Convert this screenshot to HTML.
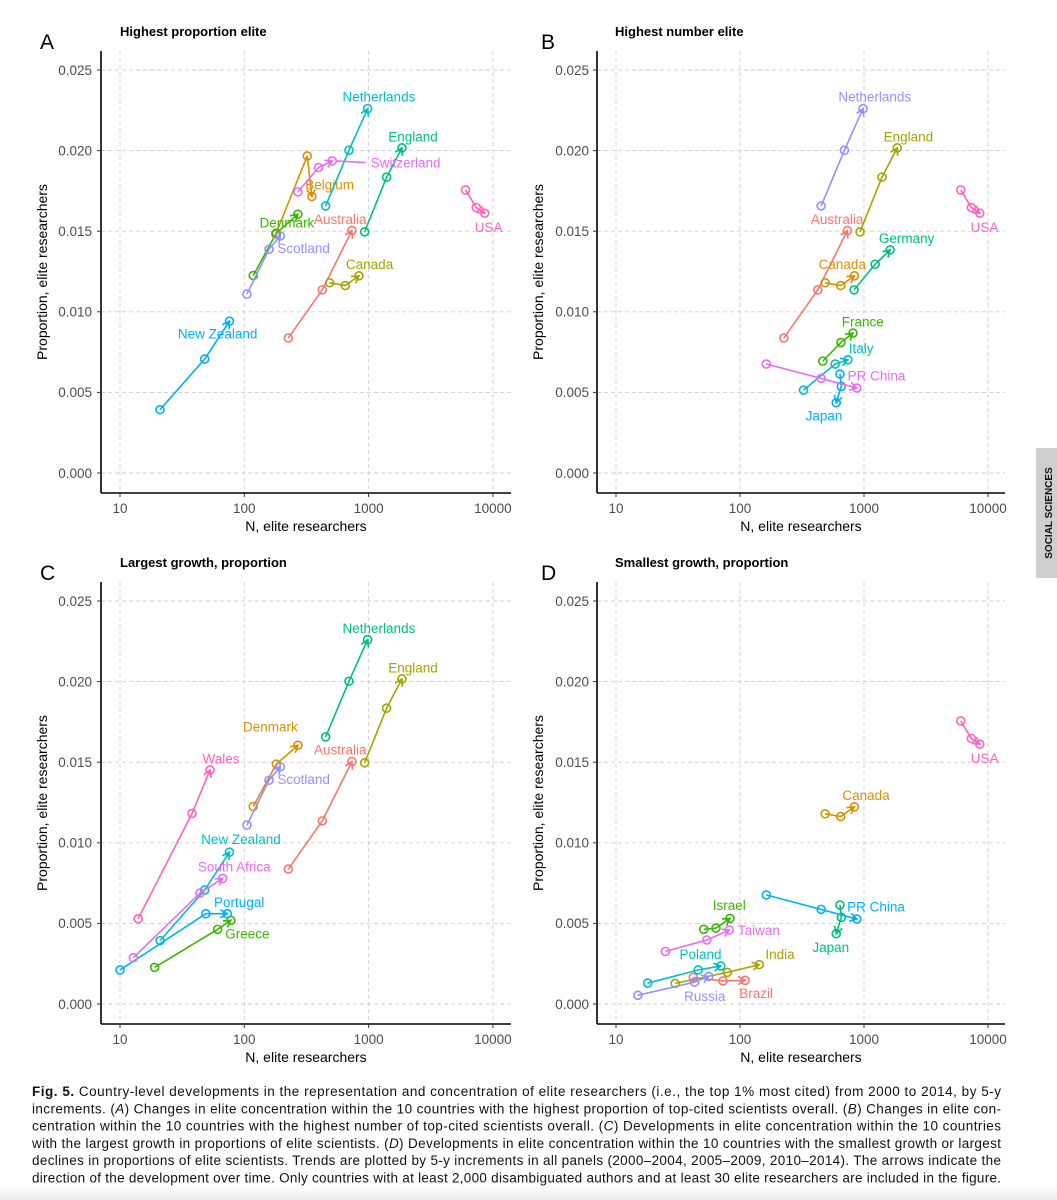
<!DOCTYPE html>
<html><head><meta charset="utf-8"><title>Fig 5</title>
<style>
html,body{margin:0;padding:0;background:#fff;}
svg{display:block;font-family:"Liberation Sans",Arial,sans-serif;}
</style></head>
<body>
<svg id="fig" width="1057" height="1200" viewBox="0 0 1057 1200" xmlns="http://www.w3.org/2000/svg">
<defs><linearGradient id="fade" x1="0" y1="0" x2="0" y2="1"><stop offset="0" stop-color="#fff"/><stop offset="1" stop-color="#ececec"/></linearGradient></defs>
<rect x="0" y="1186" width="1057" height="14" fill="url(#fade)"/>
<g>
<rect x="1036" y="448" width="21" height="130" fill="#cfcfcf"/>
<text x="0" y="0" transform="translate(1052,513) rotate(-90)" text-anchor="middle" font-size="10" font-weight="bold" fill="#111">SOCIAL SCIENCES</text>
</g>
<g id="caption" font-size="13.5" fill="#111"></g>
</svg>
<script>
// ---------- DATA ----------
const periods = ["2000–2004","2005–2009","2010–2014"];
const xTicks = [10,100,1000,10000];
const xTickLabels = ["10","100","1000","10000"];
const yTicks = [0,0.005,0.01,0.015,0.02,0.025];
const yTickLabels = ["0.000","0.005","0.010","0.015","0.020","0.025"];
const hue10 = ["#F8766D","#D89000","#A3A500","#39B600","#00BF7D","#00BFC4","#00B0F6","#9590FF","#E76BF3","#FF62BC"];

const australiaN = [226,424,734], australiaP = [0.00837,0.01136,0.01504];
const canadaN = [486,649,836], canadaP = [0.0118,0.01163,0.01223];
const englandN = [929,1396,1855], englandP = [0.01496,0.01835,0.02017];
const netherlandsN = [451,695,982], netherlandsP = [0.01657,0.02002,0.0226];
const usaN = [6030,7340,8580], usaP = [0.01756,0.01647,0.01612];
const newZealandN = [21,48,76], newZealandP = [0.00393,0.00707,0.00942];
const scotlandN = [105,158,195], scotlandP = [0.0111,0.01388,0.01471];
const denmarkN = [118,181,270], denmarkP = [0.01225,0.01488,0.01605];
const belgiumN = [179,321,350], belgiumP = [0.01481,0.01967,0.01715];
const switzerlandN = [270,396,510], switzerlandP = [0.01744,0.01895,0.01936];
const germanyN = [832,1230,1625], germanyP = [0.01136,0.01295,0.01384];
const franceN = [465,652,814], franceP = [0.00694,0.0081,0.00868];
const italyN = [325,585,741], italyP = [0.00514,0.00676,0.00702];
const chinaN = [163,451,875], chinaP = [0.00676,0.00587,0.00527];
const japanN = [640,656,597], japanP = [0.00614,0.00537,0.00436];
const greeceN = [19,61,78], greeceP = [0.00227,0.00463,0.00519];
const portugalN = [10,49,73], portugalP = [0.00211,0.0056,0.0056];
const southAfricaN = [12.8,44,67], southAfricaP = [0.00287,0.00688,0.00779];
const walesN = [14,38,53], walesP = [0.00529,0.01182,0.01452];
const brazilN = [42,73,110], brazilP = [0.00165,0.00143,0.00147];
const indiaN = [30,79,143], indiaP = [0.00128,0.00196,0.00244];
const israelN = [51,64,83], israelP = [0.00463,0.00471,0.00531];
const polandN = [18,46,70], polandP = [0.0013,0.00211,0.00236];
const russiaN = [15,43,56], russiaP = [0.00054,0.00136,0.00171];
const taiwanN = [25,54,82], taiwanP = [0.00326,0.00397,0.00459];

const panelA = ["Australia","Belgium","Canada","Denmark","England","Netherlands","New Zealand","Scotland","Switzerland","USA"];
const panelB = ["Australia","Canada","England","France","Germany","Italy","Japan","Netherlands","PR China","USA"];
const panelC = ["Australia","Denmark","England","Greece","Netherlands","New Zealand","Portugal","Scotland","South Africa","Wales"];
const panelD = ["Brazil","Canada","India","Israel","Japan","Poland","PR China","Russia","Taiwan","USA"];

const labelsA = {"Netherlands":[1211,0.02335],"England":[2275,0.02087],"Switzerland":[1986,0.01926],"Belgium":[486,0.01787],"Denmark":[220,0.01554],"Australia":[592,0.01574],"USA":[9230,0.01525],"Scotland":[300,0.01393],"Canada":[1018,0.01295],"New Zealand":[61,0.00864]};
const labelsB = {"Netherlands":[1222,0.02335],"England":[2280,0.02087],"Australia":[607,0.01574],"USA":[9380,0.01525],"Germany":[2207,0.01457],"Canada":[668,0.01295],"France":[977,0.0094],"Italy":[948,0.00773],"PR China":[1262,0.00603],"Japan":[476,0.00357]};
const labelsC = {"Netherlands":[1211,0.02331],"England":[2275,0.02087],"Denmark":[162,0.01721],"Australia":[592,0.01579],"Wales":[65,0.01523],"Scotland":[300,0.01393],"New Zealand":[94,0.01021],"South Africa":[83,0.00853],"Portugal":[91,0.0063],"Greece":[106,0.00436]};
const labelsD = {"USA":[9400,0.01525],"Canada":[1038,0.01295],"PR China":[1250,0.00603],"Israel":[82,0.00614],"Taiwan":[142,0.00459],"Poland":[48,0.00308],"India":[210,0.00308],"Japan":[540,0.00351],"Russia":[52,0.00048],"Brazil":[135,0.00068]};

const captionLines = [
["Fig. 5.","   Country-level developments in the representation and concentration of elite researchers (i.e., the top 1% most cited) from 2000 to 2014, by 5-y"],
["","increments. (A) Changes in elite concentration within the 10 countries with the highest proportion of top-cited scientists overall. (B) Changes in elite con-"],
["","centration within the 10 countries with the highest number of top-cited scientists overall. (C) Developments in elite concentration within the 10 countries"],
["","with the largest growth in proportions of elite scientists. (D) Developments in elite concentration within the 10 countries with the smallest growth or largest"],
["","declines in proportions of elite scientists. Trends are plotted by 5-y increments in all panels (2000–2004, 2005–2009, 2010–2014). The arrows indicate the"],
["","direction of the development over time. Only countries with at least 2,000 disambiguated authors and at least 30 elite researchers are included in the figure."]
];

const series = {
 "Australia":[australiaN,australiaP],"Canada":[canadaN,canadaP],"England":[englandN,englandP],
 "Netherlands":[netherlandsN,netherlandsP],"USA":[usaN,usaP],"New Zealand":[newZealandN,newZealandP],
 "Scotland":[scotlandN,scotlandP],"Denmark":[denmarkN,denmarkP],"Belgium":[belgiumN,belgiumP],
 "Switzerland":[switzerlandN,switzerlandP],"Germany":[germanyN,germanyP],"France":[franceN,franceP],
 "Italy":[italyN,italyP],"PR China":[chinaN,chinaP],"Japan":[japanN,japanP],"Greece":[greeceN,greeceP],
 "Portugal":[portugalN,portugalP],"South Africa":[southAfricaN,southAfricaP],"Wales":[walesN,walesP],
 "Brazil":[brazilN,brazilP],"India":[indiaN,indiaP],"Israel":[israelN,israelP],"Poland":[polandN,polandP],
 "Russia":[russiaN,russiaP],"Taiwan":[taiwanN,taiwanP]
};

// ---------- DRAWING ----------
const NS = "http://www.w3.org/2000/svg";
const svg = document.getElementById("fig");
function mk(tag, attrs, parent){
  const e = document.createElementNS(NS, tag);
  for (const k in attrs) e.setAttribute(k, attrs[k]);
  (parent||svg).appendChild(e);
  return e;
}
function slug(s){return s.toLowerCase().replace(/[^a-z0-9]+/g,'-');}

const panelDefs = [
 {id:"a", letter:"A", title:"Highest proportion elite", countries:panelA, labels:labelsA, x10:120, dec:124.3, axX:101, right:511, ytitleX:43, yLabX:92, letterX:40, titleX:120, oy:0},
 {id:"b", letter:"B", title:"Highest number elite", countries:panelB, labels:labelsB, x10:616, dec:124, axX:597, right:1005, ytitleX:539, yLabX:589, letterX:541, titleX:615, oy:0},
 {id:"c", letter:"C", title:"Largest growth, proportion", countries:panelC, labels:labelsC, x10:120, dec:124.3, axX:101, right:511, ytitleX:43, yLabX:92, letterX:40, titleX:120, oy:531},
 {id:"d", letter:"D", title:"Smallest growth, proportion", countries:panelD, labels:labelsD, x10:616, dec:124, axX:597, right:1005, ytitleX:539, yLabX:589, letterX:541, titleX:615, oy:531}
];

panelDefs.forEach(P=>{
  const xs = n => P.x10 + (Math.log10(n)-1)*P.dec;
  const ys = p => P.oy + 473 - p/0.005*80.6;
  const top = P.oy+51, bot = P.oy+493;
  const g = mk("g",{});
  
  

  const lt = mk("text",{x:P.letterX,y:P.oy+49,"font-size":"21",fill:"#000"},g);
  
  
  lt.textContent = P.letter;
  const tt = mk("text",{x:P.titleX,y:P.oy+36,"font-size":"13","font-weight":"bold",fill:"#000"},g);
  
  
  tt.textContent = P.title;

  const grid = mk("g",{stroke:"#cfcfcf","stroke-width":"0.9","stroke-dasharray":"4,3"},g);
  
  
  xTicks.forEach(t=>{ mk("line",{x1:xs(t),x2:xs(t),y1:top,y2:bot},grid); });
  yTicks.forEach(t=>{ mk("line",{x1:P.axX,x2:P.right,y1:ys(t),y2:ys(t)},grid); });

  const ax = mk("g",{stroke:"#000","stroke-width":"1.6"},g);
  
  
  mk("line",{x1:P.axX,x2:P.axX,y1:top,y2:bot},ax);
  mk("line",{x1:P.axX,x2:P.right,y1:bot,y2:bot},ax);
  const tk = mk("g",{stroke:"#333","stroke-width":"1"},g);
  xTicks.forEach(t=>{ mk("line",{x1:xs(t),x2:xs(t),y1:bot,y2:bot+4},tk); });
  yTicks.forEach(t=>{ mk("line",{x1:P.axX-4,x2:P.axX,y1:ys(t),y2:ys(t)},tk); });

  const xl = mk("g",{"font-size":"13.5",fill:"#4d4d4d","text-anchor":"middle"},g);
  
  
  xTicks.forEach((t,i)=>{ const e=mk("text",{x:xs(t),y:bot+20},xl); e.textContent=xTickLabels[i]; });
  const yl = mk("g",{"font-size":"13.5",fill:"#4d4d4d","text-anchor":"end"},g);
  
  
  yTicks.forEach((t,i)=>{ const e=mk("text",{x:P.yLabX,y:ys(t)+4.8},yl); e.textContent=yTickLabels[i]; });

  const xt = mk("text",{x:(P.axX+P.right)/2,y:bot+38,"font-size":"14",fill:"#000","text-anchor":"middle"},g);
  
  
  xt.textContent = "N, elite researchers";
  const yt = mk("text",{transform:`translate(${P.ytitleX+4},${P.oy+272}) rotate(-90)`,"font-size":"14",fill:"#000","text-anchor":"middle"},g);
  
  
  yt.textContent = "Proportion, elite researchers";

  P.countries.forEach((c,ci)=>{
    const col = hue10[ci];
    const [N,Pv] = series[c];
    const sg = mk("g",{stroke:col,fill:"none","stroke-width":"1.6"},g);
    
    
    const pts = N.map((n,i)=>[xs(n),ys(Pv[i])]);
    mk("polyline",{points:pts.map(p=>p.join(",")).join(" ")},sg);
    pts.forEach((p,i)=>{
      const ci2 = mk("circle",{cx:p[0],cy:p[1],r:"4"},sg);
      
      
    });
    const a=pts[1], b=pts[2];
    const ang=Math.atan2(b[1]-a[1],b[0]-a[0]), L=8, h=Math.PI/6;
    const p1=[b[0]-L*Math.cos(ang-h),b[1]-L*Math.sin(ang-h)];
    const p2=[b[0]-L*Math.cos(ang+h),b[1]-L*Math.sin(ang+h)];
    const ar = mk("polyline",{points:`${p1.join(",")} ${b.join(",")} ${p2.join(",")}`},sg);
    
    
    const lab = P.labels[c];
    if(lab){
      const lx=xs(lab[0]), ly=ys(lab[1]);
      if(c==="Switzerland"){ mk("line",{x1:b[0]+4,y1:b[1],x2:lx-40,y2:ly},sg); }
      const te = mk("text",{x:lx,y:ly+4.8,"font-size":"13.5",fill:col,stroke:"none","text-anchor":"middle"},g);
      
      
      te.textContent = c;
    }
  });
});

const cap = document.getElementById("caption");
captionLines.forEach((ln,i)=>{
  const t = mk("text",{x:32,y:1096+i*17.3,textLength:"969",lengthAdjust:"spacing","xml:space":"preserve"},cap);
  
  
  if(ln[0]){ const b=mk("tspan",{"font-weight":"bold"},t); b.textContent=ln[0]; }
  // italicize panel letters in parentheses
  const parts = ln[1].split(/\(([ABCD])\)/);
  parts.forEach((pt,j)=>{
    if(j%2===1){
      const o=mk("tspan",{},t); o.textContent="(";
      const it=mk("tspan",{"font-style":"italic"},t); it.textContent=pt;
      const cl=mk("tspan",{},t); cl.textContent=")";
    } else if(pt){
      const s=mk("tspan",{},t); s.textContent=pt;
    }
  });
});
</script>
</body></html>
